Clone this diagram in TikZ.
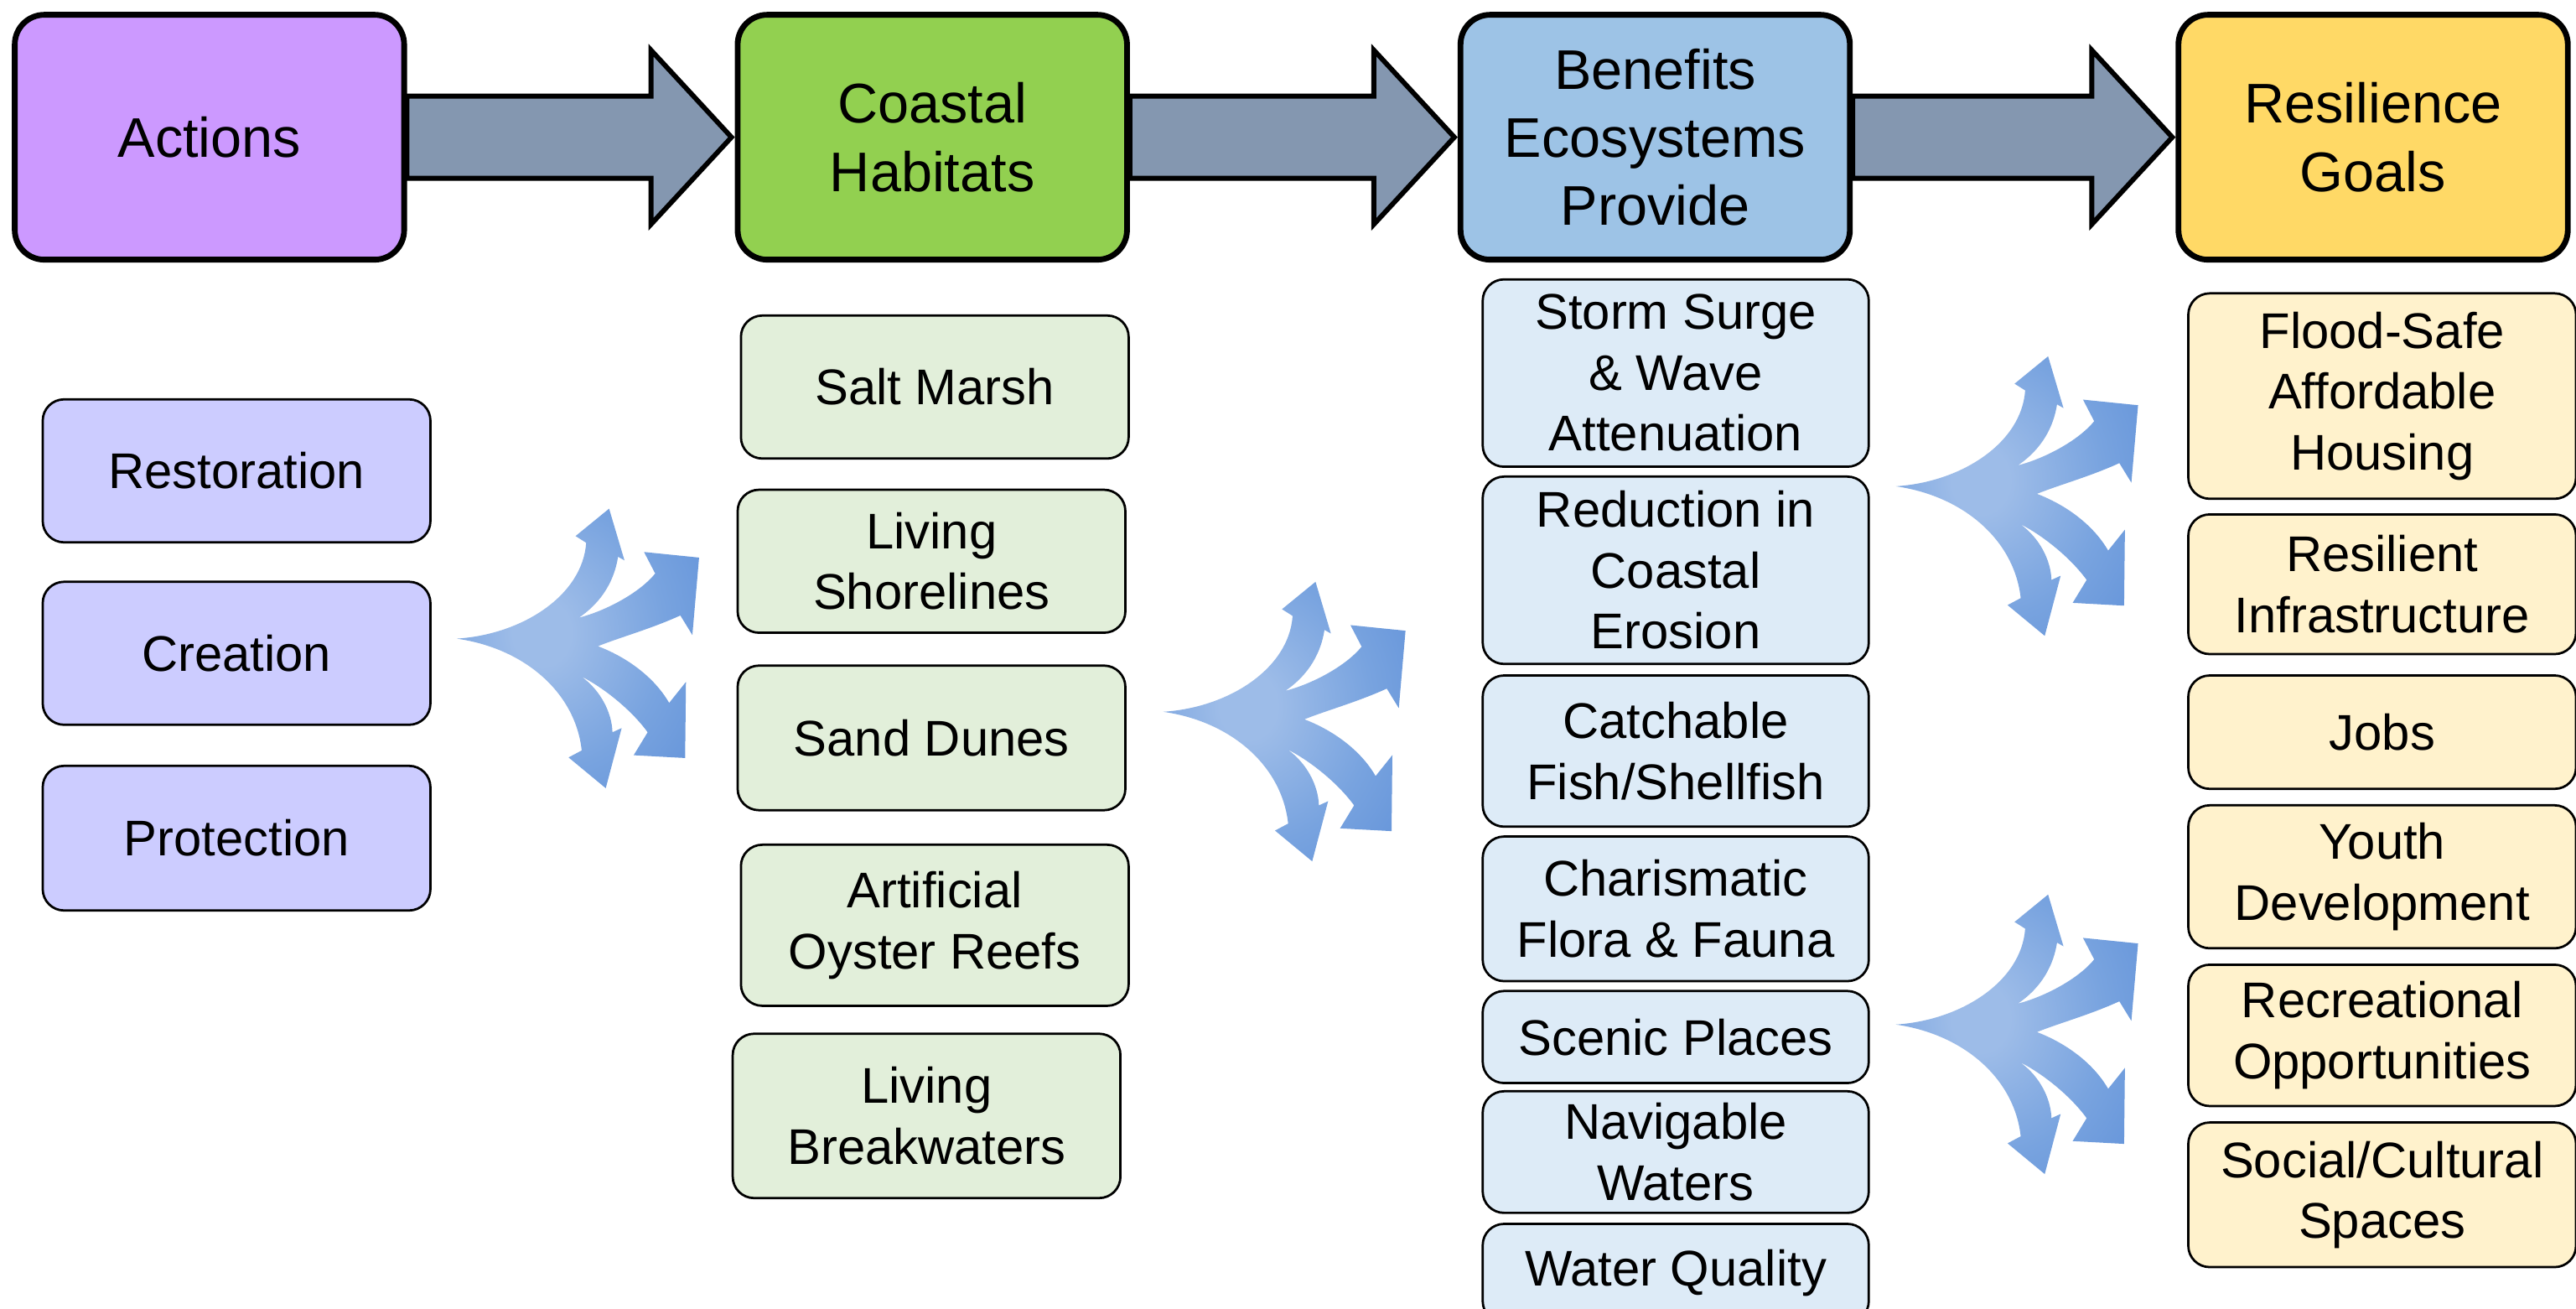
\documentclass[tikz,border=0pt]{standalone}
\usepackage{fontspec}
\setmainfont{Liberation Sans}
\usetikzlibrary{calc}
\definecolor{hpurple}{HTML}{CC99FF}
\definecolor{hgreen}{HTML}{92D050}
\definecolor{hblue}{HTML}{9DC3E6}
\definecolor{hyellow}{HTML}{FFD966}
\definecolor{spurple}{HTML}{CCCCFF}
\definecolor{sgreen}{HTML}{E2EFDA}
\definecolor{sblue}{HTML}{DDEBF7}
\definecolor{syellow}{HTML}{FFF2CC}
\definecolor{arrowfill}{HTML}{8497B0}
\definecolor{fanlight}{HTML}{9DBCE8}
\definecolor{fanmid}{HTML}{78A3DF}
\definecolor{fandark}{HTML}{5689D6}
\pgfdeclareradialshading{fanshade}{\pgfpoint{-8bp}{3bp}}{color(0bp)=(fanlight); color(6bp)=(fanlight); color(24bp)=(fanmid); color(48bp)=(fandark); color(90bp)=(fandark)}
\tikzset{
  headbox/.style={draw=black, line width=3.5pt, rounded corners=18pt, minimum width=237pt, minimum height=149pt, align=center, inner sep=0pt, font=\fontsize{34}{41.5}\selectfont},
  subbox/.style={draw=black, line width=1.4pt, rounded corners=13pt, minimum width=236pt, align=center, inner sep=0pt, font=\fontsize{30.5}{37}\selectfont},
  bigarrow/.style={draw=black, line width=3pt, fill=arrowfill, line join=miter},
}
\newcommand\drawfan[2]{%
  \begin{scope}[shift={(#1,#2)}, scale=0.17007]
    \shade[shading=fanshade]
      (135,605) .. controls (370,590) and (585,450) .. (598,262)
      -- (560,238) -- (680,140) -- (735,325) -- (712,312)
      .. controls (700,390) and (660,470) .. (572,530)
      .. controls (670,505) and (790,440) .. (845,372)
      -- (805,295) -- (1002,315) -- (978,592) -- (935,522)
      .. controls (830,570) and (720,600) .. (640,632)
      .. controls (740,670) and (840,740) .. (895,835)
      -- (955,760) -- (952,1032) -- (768,1022) -- (818,940)
      .. controls (760,860) and (660,780) .. (580,740)
      .. controls (650,790) and (690,870) .. (692,940)
      -- (725,925) -- (668,1140) -- (535,1030) -- (582,1005)
      .. controls (560,800) and (380,640) .. (135,605) -- cycle;
  \end{scope}}
\begin{document}
\begin{tikzpicture}[x=1pt, y=-1pt]
\useasboundingbox (0,0) rectangle (1568,796);
\fill[white] (0,0) rectangle (1568,796);

% headers
\node[headbox, fill=hpurple] (hA) at (127.5,83.5) {Actions};
\node[headbox, fill=hgreen] (hC) at (567.5,83.5) {Coastal\\Habitats};
\node[headbox, fill=hblue] (hB) at (1007.5,83.5) {Benefits\\Ecosystems\\Provide};
\node[headbox, fill=hyellow] (hR) at (1444.5,83.5) {Resilience\\Goals};

% big arrows
\foreach \s/\t in {hA/hC, hC/hB, hB/hR}{
  \draw[bigarrow] ([yshift=25pt]\s.east) -- ([xshift=-51pt,yshift=25pt]\t.west)
    -- ([xshift=-51pt,yshift=53pt]\t.west) -- ([xshift=-2pt]\t.west)
    -- ([xshift=-51pt,yshift=-53pt]\t.west) -- ([xshift=-51pt,yshift=-25pt]\t.west)
    -- ([yshift=-25pt]\s.east) -- cycle;
}

% actions
\node[subbox, fill=spurple, minimum height=87pt] (a1) at (144,286.5) {Restoration};
\node[subbox, fill=spurple, minimum height=87pt] (a2) at (144,397.5) {Creation};
\node[subbox, fill=spurple, minimum height=88pt] (a3) at (144,510) {Protection};

% habitats
\node[subbox, fill=sgreen, minimum height=87pt] (c1) at (569,235.5) {Salt Marsh};
\node[subbox, fill=sgreen, minimum height=87pt] (c2) at (567,341.5) {Living\\Shorelines};
\node[subbox, fill=sgreen, minimum height=88pt] (c3) at (567,449) {Sand Dunes};
\node[subbox, fill=sgreen, minimum height=98pt] (c4) at (569,563) {Artificial\\Oyster Reefs};
\node[subbox, fill=sgreen, minimum height=100pt] (c5) at (564,679) {Living\\Breakwaters};

% benefits
\node[subbox, fill=sblue, minimum width=235pt, minimum height=114pt] (b1) at (1020,227) {Storm Surge\\\& Wave\\Attenuation};
\node[subbox, fill=sblue, minimum width=235pt, minimum height=114pt] (b2) at (1020,347) {Reduction in\\Coastal\\Erosion};
\node[subbox, fill=sblue, minimum width=235pt, minimum height=92pt] (b3) at (1020,457) {Catchable\\Fish/Shellfish};
\node[subbox, fill=sblue, minimum width=235pt, minimum height=88pt] (b4) at (1020,553) {Charismatic\\Flora \& Fauna};
\node[subbox, fill=sblue, minimum width=235pt, minimum height=56pt] (b5) at (1020,631) {Scenic Places};
\node[subbox, fill=sblue, minimum width=235pt, minimum height=74pt] (b6) at (1020,701) {Navigable\\Waters};
\node[subbox, fill=sblue, minimum width=235pt, minimum height=60pt, anchor=north] (b7) at (1020,744) {\raisebox{5pt}{Water Quality}};

% goals
\node[subbox, fill=syellow, minimum height=125pt] (g1) at (1450,241) {Flood-Safe\\Affordable\\Housing};
\node[subbox, fill=syellow, minimum height=85pt] (g2) at (1450,355.5) {Resilient\\Infrastructure};
\node[subbox, fill=syellow, minimum height=69pt] (g3) at (1450,445.5) {Jobs};
\node[subbox, fill=syellow, minimum height=87pt] (g4) at (1450,533.5) {Youth\\Development};
\node[subbox, fill=syellow, minimum height=86pt] (g5) at (1450,630) {Recreational\\Opportunities};
\node[subbox, fill=syellow, minimum height=88pt] (g6) at (1450,727) {Social/Cultural\\Spaces};

% diverging arrows
\drawfan{255.1}{285.7}
\drawfan{685.1}{330.2}
\drawfan{1131.0}{193.0}
\drawfan{1131.0}{520.5}
\end{tikzpicture}
\end{document}
